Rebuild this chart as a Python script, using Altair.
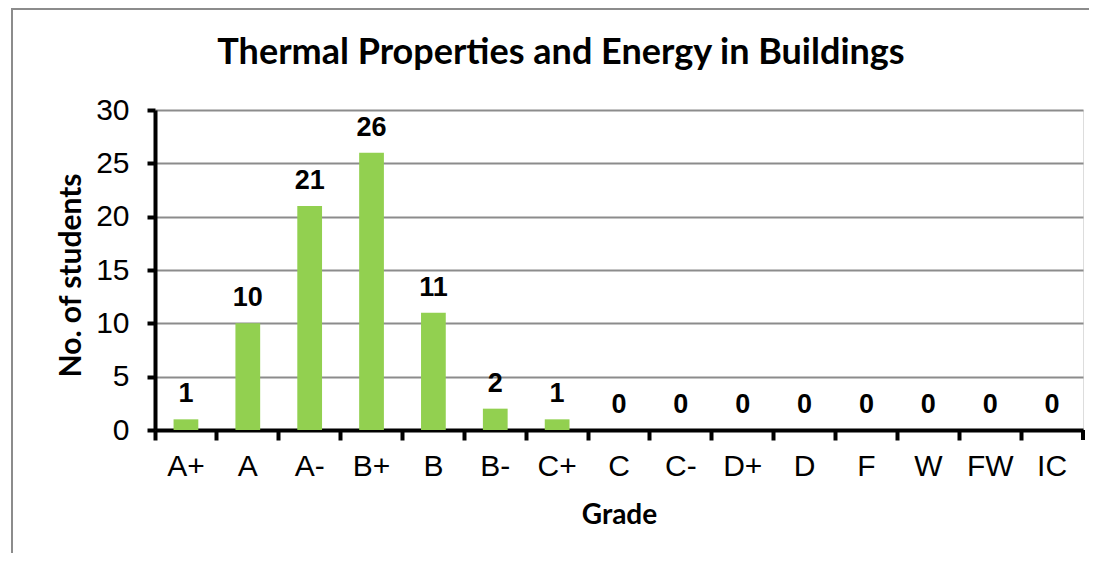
import altair as alt
import pandas as pd

grades = ["A+", "A", "A-", "B+", "B", "B-", "C+", "C", "C-", "D+", "D", "F", "W", "FW", "IC"]
students = [1, 10, 21, 26, 11, 2, 1, 0, 0, 0, 0, 0, 0, 0, 0]
y_ticks = [0, 5, 10, 15, 20, 25, 30]
chart_title = "Thermal Properties and Energy in Buildings"

df = pd.DataFrame({"Grade": grades, "Students": students})

W, H = 928, 320

x_enc = alt.X(
    "Grade:N",
    sort=grades,
    scale=alt.Scale(paddingInner=0, paddingOuter=0),
    axis=alt.Axis(
        title="Grade",
        labelAngle=0,
        labelFont="Liberation Sans",
        labelFontSize=30,
        labelColor="#000000",
        labelPadding=11,
        tickColor="#000000",
        tickWidth=4,
        tickSize=10,
        bandPosition=0,
        domainColor="#000000",
        domainWidth=4,
        grid=False,
        titleFont="Lato",
        titleFontWeight="bold",
        titleFontSize=28,
        titleColor="#000000",
        titleX=W / 2,
        titleY=85,
        titleBaseline="middle",
        titleAlign="center",
    ),
)

y_enc = alt.Y(
    "Students:Q",
    scale=alt.Scale(domain=[0, 30], nice=False),
    axis=alt.Axis(
        title="No. of students",
        values=y_ticks,
        labelFont="Liberation Sans",
        labelFontSize=30,
        labelColor="#000000",
        labelPadding=18,
        tickColor="#000000",
        tickWidth=4,
        tickSize=8,
        domainColor="#000000",
        domainWidth=4,
        gridColor="#8c8c8c",
        gridWidth=2,
        titleFont="Lato",
        titleFontWeight="bold",
        titleFontSize=30,
        titleColor="#000000",
        titleAngle=-90,
        titleX=-84,
        titleY=H / 2 + 5,
        titleBaseline="middle",
        titleAlign="center",
    ),
)

bars = alt.Chart(df).mark_bar(
    color="#92D050", width=alt.RelativeBandSize(0.4)
).encode(x=x_enc, y=y_enc)

labels = alt.Chart(df).mark_text(
    font="Liberation Sans",
    fontWeight="bold",
    fontSize=27,
    color="#000000",
    baseline="alphabetic",
    dy=-17,
).encode(
    x=alt.X("Grade:N", sort=grades),
    y=alt.Y("Students:Q"),
    text="Students:Q",
)

title_df = pd.DataFrame({"t": [chart_title]})
title = alt.Chart(title_df).mark_text(
    font="Lato",
    fontWeight="bold",
    fontSize=36,
    color="#000000",
    align="center",
    baseline="alphabetic",
).encode(
    x=alt.value(406),
    y=alt.value(-46),
    text="t:N",
)

end_tick = alt.Chart(pd.DataFrame({"a": [0]})).mark_rule(
    color="#000000", strokeWidth=4
).encode(
    x=alt.value(W),
    y=alt.value(H),
    y2=alt.value(H + 10),
)

border = alt.Chart(pd.DataFrame({"a": [0]})).mark_rect(
    fill=None, stroke="#8c8c8c", strokeWidth=2
).encode(
    x=alt.value(-143),
    x2=alt.value(W + 60),
    y=alt.value(-101),
    y2=alt.value(H + 200),
)

chart = alt.layer(bars, labels, title, end_tick, border).properties(
    width=W,
    height=H,
    autosize=alt.AutoSizeParams(type="none"),
    padding={"left": 147, "top": 102, "right": 6, "bottom": 123},
).configure_view(stroke=None).configure(background="#ffffff")

chart.save("out.html", embed_options={"renderer": "svg", "actions": False})
